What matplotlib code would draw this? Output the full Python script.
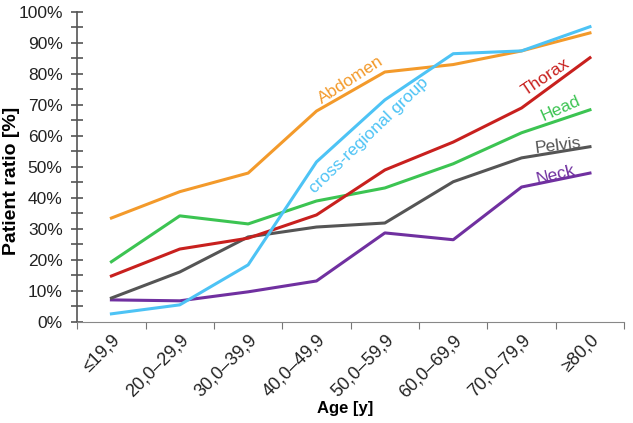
import numpy as np
import matplotlib.pyplot as plt
from matplotlib.ticker import MultipleLocator, FixedLocator, PercentFormatter

plt.rcParams['font.family'] = ['Liberation Sans', 'DejaVu Sans']

ages = ["≤19,9", "20,0–29,9", "30,0–39,9", "40,0–49,9",
        "50,0–59,9", "60,0–69,9", "70,0–79,9", "≥80,0"]
abdomen = [33.5, 42, 48, 68, 80.6, 83, 87.4, 93.2]
cross = [2.6, 5.5, 18.4, 51.6, 71.6, 86.5, 87.4, 95.2]
thorax = [14.8, 23.5, 27, 34.5, 49, 58, 69, 85.2]
head = [19.4, 34.2, 31.6, 39, 43.2, 51, 61, 68.4]
pelvis = [7.7, 16.1, 27.4, 30.6, 31.9, 45.2, 52.9, 56.5]
neck = [7.1, 6.8, 9.7, 13.2, 28.7, 26.5, 43.5, 48]

fig = plt.figure(figsize=(6.33, 4.23), dpi=100)
ax = fig.add_axes([0.122, 0.239, 0.864, 0.733])
x = np.arange(len(ages))

lw = 2.2
ax.plot(x, neck, color='#7030A0', lw=lw)
ax.plot(x, pelvis, color='#555555', lw=lw)
ax.plot(x, head, color='#3CC452', lw=lw)
ax.plot(x, thorax, color='#C8201E', lw=lw)
ax.plot(x, abdomen, color='#F39A2B', lw=lw)
ax.plot(x, cross, color='#4DC3F5', lw=lw)

ax.set_xlim(-0.5, len(ages) - 0.5)
ax.set_ylim(0, 100)
ax.yaxis.set_major_locator(MultipleLocator(10))
ax.yaxis.set_minor_locator(MultipleLocator(5))
ax.yaxis.set_major_formatter(PercentFormatter(decimals=0))
ax.tick_params(axis='y', which='both', direction='inout', length=9, width=1.2,
               color='#555555', labelsize=12.5, labelcolor='#222222', pad=6)

ax.xaxis.set_major_locator(FixedLocator(np.arange(-0.5, len(ages), 1)))
ax.xaxis.set_minor_locator(FixedLocator(x))
ax.set_xticklabels([], minor=False)
ax.set_xticklabels(ages, minor=True, rotation=45, ha='right', va='top',
                   rotation_mode='anchor')
ax.tick_params(axis='x', which='major', direction='out', length=5, color='#777777')
ax.tick_params(axis='x', which='minor', length=0, labelsize=13, pad=7,
               labelcolor='#222222')

for s in ['top', 'right']:
    ax.spines[s].set_visible(False)
ax.spines['left'].set_color('#555555')
ax.spines['left'].set_linewidth(1.2)
ax.spines['bottom'].set_color('#888888')

fig.text(12 / 633, 1 - 181 / 423, 'Patient ratio [%]', fontsize=14, fontweight='bold',
         rotation=90, ha='center', va='center')
fig.text(345 / 633, 1 - 408 / 423, 'Age [y]', fontsize=12, fontweight='bold',
         ha='center', va='center')

ax.text(3.5, 78, 'Abdomen', color='#F39A2B', fontsize=12.5, rotation=33,
        ha='center', va='center')
ax.text(3.77, 60.3, 'cross-regional group', color='#4DC3F5', fontsize=12.5,
        rotation=44, ha='center', va='center')
ax.text(6.35, 79, 'Thorax', color='#C8201E', fontsize=12.5, rotation=34,
        ha='center', va='center')
ax.text(6.58, 68.8, 'Head', color='#3CC452', fontsize=12.5, rotation=24,
        ha='center', va='center')
ax.text(6.53, 56.8, 'Pelvis', color='#555555', fontsize=12.5, rotation=7,
        ha='center', va='center')
ax.text(6.5, 47.4, 'Neck', color='#7030A0', fontsize=12.5, rotation=14,
        ha='center', va='center')

fig.savefig('out.png', dpi=100)
